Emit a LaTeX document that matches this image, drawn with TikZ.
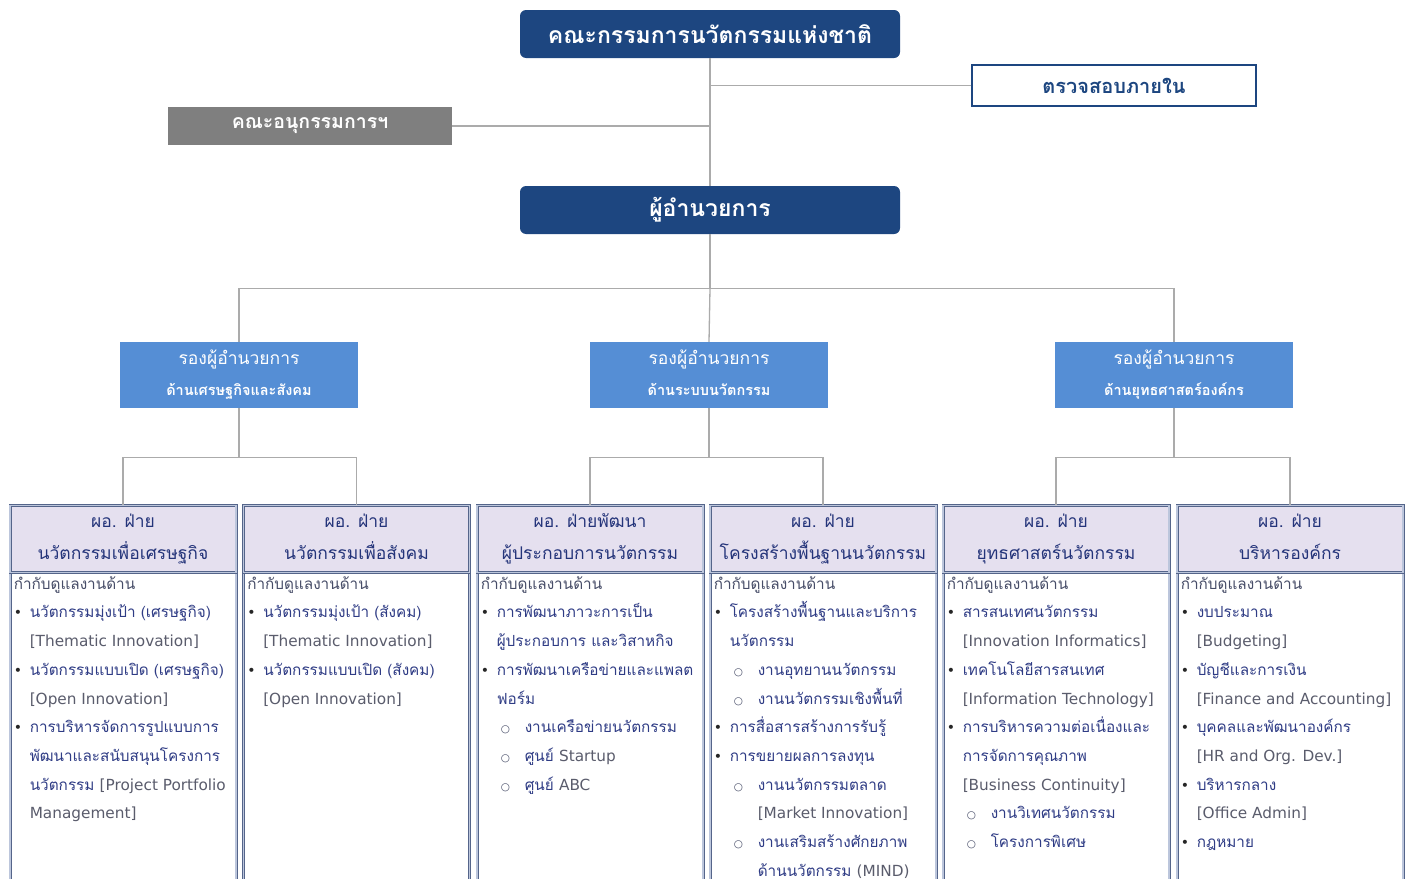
\documentclass[tikz,border=0pt]{standalone}
\usepackage{fontspec}
\setmainfont[Script=Thai]{Loma}
\newfontfamily\symf{DejaVu Sans}
\newfontfamily\enf{DejaVu Sans}
\definecolor{navy}{HTML}{1D4680}
\definecolor{depblue}{HTML}{558ED5}
\definecolor{subgray}{HTML}{7F7F7F}
\definecolor{lav}{HTML}{E5E0EF}
\definecolor{bord}{HTML}{55658A}
\definecolor{bordin}{HTML}{BCC6DC}
\definecolor{conn}{HTML}{ABABAB}
\definecolor{headtxt}{HTML}{24347A}
\definecolor{bodytxt}{HTML}{2F3C85}
\definecolor{titletxt}{HTML}{474D68}
\definecolor{entxt}{HTML}{5A5C6C}
\newcommand{\en}[1]{{\enf\fontsize{15.3}{28.7}\selectfont\color{entxt}#1}}
\newcommand{\Lt}[1]{\rule{0pt}{20pt}{\color{titletxt}#1}\\}
\newcommand{\Lb}[1]{\hspace*{0pt}\makebox[16pt][l]{{\symf\fontsize{14}{14}\selectfont\color{black!85}•}}#1\\}
\newcommand{\Lc}[1]{\hspace*{16pt}#1\\}
\newcommand{\Ls}[1]{\hspace*{20pt}\makebox[24pt][l]{{\symf\fontsize{10.5}{10}\selectfont\color{titletxt}○}}#1\\}
\newcommand{\Lsc}[1]{\hspace*{44pt}#1\\}
\tikzset{
  topbox/.style={fill=navy, rounded corners=6pt, minimum width=380pt, minimum height=48pt,
    text=white, font=\bfseries\fontsize{23}{26}\selectfont, inner sep=0pt},
  auditbox/.style={draw=navy, line width=1.3pt, fill=white, minimum width=284pt, minimum height=41pt,
    text=navy, font=\bfseries\fontsize{20}{22}\selectfont, inner sep=0pt},
  subbox/.style={fill=subgray, minimum width=284pt, minimum height=38pt,
    text=white, font=\bfseries\fontsize{19.5}{22}\selectfont, inner sep=0pt},
  depbox/.style={fill=depblue, minimum width=238pt, minimum height=66pt, inner sep=0pt},
  deptxta/.style={anchor=base, inner sep=0pt, text=white, font=\fontsize{17.5}{20}\selectfont},
  deptxtb/.style={anchor=base, inner sep=0pt, text=white, font=\bfseries\fontsize{14.5}{18}\selectfont},
  colbox/.style={draw=bord, line width=0.9pt, double=bordin, double distance=1.2pt, fill=white,
    minimum width=226pt, minimum height=420pt, anchor=north, inner sep=0pt},
  colhead/.style={draw=bord, line width=0.9pt, double=bordin, double distance=1.2pt, fill=lav,
    minimum width=226pt, minimum height=67pt, anchor=north, inner sep=0pt},
  headline/.style={anchor=base, inner sep=0pt, text=headtxt, font=\fontsize{17.5}{20}\selectfont},
  colbody/.style={anchor=north west, inner sep=0pt, align=left, text=bodytxt,
    font=\fontsize{15.3}{28.7}\selectfont},
  conn/.style={draw=conn, line width=1.3pt}
}
\newcommand{\divcol}[5]{%
  \node[colbox] (#1) at (#2,505) {};
  \node[colhead] (#1h) at (#2,505) {};
  \node[headline] (#1t) at (#2,527) {#3};
  \node[headline] (#1u) at (#2,559) {#4};
  \node[colbody, xshift=4pt, yshift=-64pt] (#1b) at (#1.north west) {#5};
}
\begin{document}
\begin{tikzpicture}[x=1pt,y=-1pt]
\useasboundingbox (0,0) rectangle (1412,878);
\clip (0,0) rectangle (1412,878);
\fill[white] (0,0) rectangle (1412,878);

% top level
\node[topbox] (nic) at (710,34) {คณะกรรมการนวัตกรรมแห่งชาติ};
\node[auditbox] (audit) at (1114,85.5) {ตรวจสอบภายใน};
\node[subbox] (sub) at (310,126) {คณะอนุกรรมการฯ};
\node[topbox] (dir) at (710,210) {ผู้อำนวยการ};

\draw[conn] (nic.south) -- (dir.north);
\draw[conn] (audit.west) -- (audit.west -| nic.south);
\draw[conn] (sub.east) -- (sub.east -| nic.south);

% deputies
\node[depbox] (dep1) at (239,375) {};
\node[deptxta] (dep1a) at (239,364) {รองผู้อำนวยการ};
\node[deptxtb] (dep1b) at (239,395) {ด้านเศรษฐกิจและสังคม};
\node[depbox] (dep2) at (709,375) {};
\node[deptxta] (dep2a) at (709,364) {รองผู้อำนวยการ};
\node[deptxtb] (dep2b) at (709,395) {ด้านระบบนวัตกรรม};
\node[depbox] (dep3) at (1174,375) {};
\node[deptxta] (dep3a) at (1174,364) {รองผู้อำนวยการ};
\node[deptxtb] (dep3b) at (1174,395) {ด้านยุทธศาสตร์องค์กร};

\draw[conn] (dir.south) -- ++(0,54) coordinate (hub);
\draw[conn] (dep1.north) |- (hub) -| (dep3.north);
\draw[conn] (hub) -- (dep2.north);

% divisions
\divcol{c1}{123}{ผอ. ฝ่าย}{นวัตกรรมเพื่อเศรษฐกิจ}{%
\Lt{กำกับดูแลงานด้าน}
\Lb{นวัตกรรมมุ่งเป้า (เศรษฐกิจ)}
\Lc{\en{[Thematic Innovation]}}
\Lb{นวัตกรรมแบบเปิด (เศรษฐกิจ)}
\Lc{\en{[Open Innovation]}}
\Lb{การบริหารจัดการรูปแบบการ}
\Lc{พัฒนาและสนับสนุนโครงการ}
\Lc{นวัตกรรม \en{[Project Portfolio}}
\Lc{\en{Management]}}}
\divcol{c2}{356.5}{ผอ. ฝ่าย}{นวัตกรรมเพื่อสังคม}{%
\Lt{กำกับดูแลงานด้าน}
\Lb{นวัตกรรมมุ่งเป้า (สังคม)}
\Lc{\en{[Thematic Innovation]}}
\Lb{นวัตกรรมแบบเปิด (สังคม)}
\Lc{\en{[Open Innovation]}}}
\divcol{c3}{590}{ผอ. ฝ่ายพัฒนา}{ผู้ประกอบการนวัตกรรม}{%
\Lt{กำกับดูแลงานด้าน}
\Lb{การพัฒนาภาวะการเป็น}
\Lc{ผู้ประกอบการ และวิสาหกิจ}
\Lb{การพัฒนาเครือข่ายและแพลต}
\Lc{ฟอร์ม}
\Ls{งานเครือข่ายนวัตกรรม}
\Ls{ศูนย์ \en{Startup}}
\Ls{ศูนย์ \en{ABC}}}
\divcol{c4}{823}{ผอ. ฝ่าย}{โครงสร้างพื้นฐานนวัตกรรม}{%
\Lt{กำกับดูแลงานด้าน}
\Lb{โครงสร้างพื้นฐานและบริการ}
\Lc{นวัตกรรม}
\Ls{งานอุทยานนวัตกรรม}
\Ls{งานนวัตกรรมเชิงพื้นที่}
\Lb{การสื่อสารสร้างการรับรู้}
\Lb{การขยายผลการลงทุน}
\Ls{งานนวัตกรรมตลาด}
\Lsc{\en{[Market Innovation]}}
\Ls{งานเสริมสร้างศักยภาพ}
\Lsc{ด้านนวัตกรรม \en{(MIND)}}}
\divcol{c5}{1056}{ผอ. ฝ่าย}{ยุทธศาสตร์นวัตกรรม}{%
\Lt{กำกับดูแลงานด้าน}
\Lb{สารสนเทศนวัตกรรม}
\Lc{\en{[Innovation Informatics]}}
\Lb{เทคโนโลยีสารสนเทศ}
\Lc{\en{[Information Technology]}}
\Lb{การบริหารความต่อเนื่องและ}
\Lc{การจัดการคุณภาพ}
\Lc{\en{[Business Continuity]}}
\Ls{งานวิเทศนวัตกรรม}
\Ls{โครงการพิเศษ}}
\divcol{c6}{1290}{ผอ. ฝ่าย}{บริหารองค์กร}{%
\Lt{กำกับดูแลงานด้าน}
\Lb{งบประมาณ}
\Lc{\en{[Budgeting]}}
\Lb{บัญชีและการเงิน}
\Lc{\en{[Finance and Accounting]}}
\Lb{บุคคลและพัฒนาองค์กร}
\Lc{\en{[HR and Org. Dev.]}}
\Lb{บริหารกลาง}
\Lc{\en{[Office Admin]}}
\Lb{กฎหมาย}}

% group connectors
\draw[conn] (dep1.south) -- ++(0,49) coordinate (g1);
\draw[conn] (c1.north) |- (g1) -| (c2.north);
\draw[conn] (dep2.south) -- ++(0,49) coordinate (g2);
\draw[conn] (c3.north) |- (g2) -| (c4.north);
\draw[conn] (dep3.south) -- ++(0,49) coordinate (g3);
\draw[conn] (c5.north) |- (g3) -| (c6.north);
\end{tikzpicture}
\end{document}
